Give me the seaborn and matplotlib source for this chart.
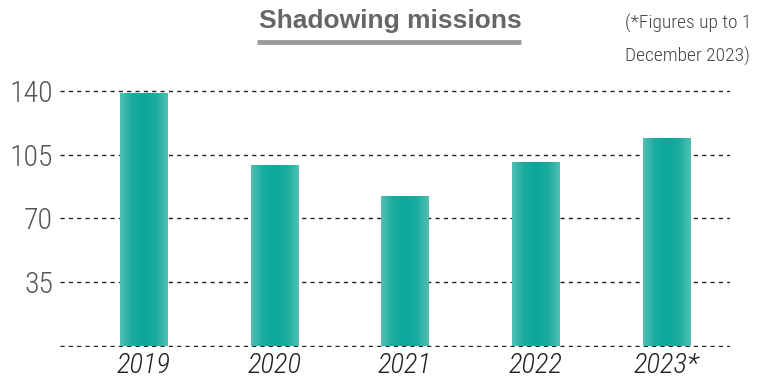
import numpy as np
import pandas as pd
import matplotlib
matplotlib.use("Agg")
import matplotlib.pyplot as plt
import seaborn as sns
from matplotlib.colors import LinearSegmentedColormap

years = ["2019", "2020", "2021", "2022", "2023*"]
missions = [139, 99, 82, 101, 114]
ytick_vals = [0, 35, 70, 105, 140]
ytick_labels = ["", "35", "70", "105", "140"]
title = "Shadowing missions"
note = "(*Figures up to 1\nDecember 2023)"

sns.set_theme(style="white")
FAM = ['Roboto Condensed', 'Archivo Narrow', 'Liberation Sans Narrow',
       'Barlow Semi Condensed', 'DejaVu Sans']
plt.rcParams['font.family'] = FAM

df = pd.DataFrame({"year": years, "missions": missions})

fig = plt.figure(figsize=(7.74, 3.85), dpi=100)
ax = fig.add_axes([0.0775, 0.0992, 0.8655, 0.6678])

sns.barplot(data=df, x="year", y="missions", color="#2ab0a3", width=0.36,
            saturation=1, ax=ax, zorder=3)

# gradient overlay on each bar
cmap = LinearSegmentedColormap.from_list("teal", ["#52bfb3", "#1aac9f", "#0ba89b", "#1aac9f", "#52bfb3"])
grad = np.tile(np.linspace(0, 1, 256), (64, 1))
for p in ax.patches:
    x0, y0 = p.get_x(), p.get_y()
    w, h = p.get_width(), p.get_height()
    im = ax.imshow(grad, cmap=cmap, aspect="auto", extent=[x0, x0 + w, y0, y0 + h],
                   zorder=4, interpolation="bicubic")
    im.set_clip_path(p)
    p.set_edgecolor("none")

ax.set_xlim(-0.637, 4.485)
ax.set_ylim(-0.6, 140.6)
ax.set_yticks(ytick_vals)
ax.set_yticklabels(ytick_labels, fontsize=21.5, color="#555555", fontweight="light")
ax.set_xticks(range(len(years)))
ax.set_xticklabels(years, fontsize=20.5, color="#222222", style="italic",
                   fontweight="light")
ax.tick_params(axis="x", length=0, pad=4)
ax.tick_params(axis="y", length=0, pad=5)
ax.set_xlabel("")
ax.set_ylabel("")
for s in ax.spines.values():
    s.set_visible(False)
ax.yaxis.grid(True, linestyle=(0, (3, 3)), color="#222222", linewidth=1.0, zorder=1)
ax.set_axisbelow(True)
ax.patch.set_alpha(0)

fig.text(0.504, 0.945, title, ha="center", va="center", fontsize=19,
         fontweight="bold", color="#666666",
         family=['Liberation Sans', 'DejaVu Sans'])
fig.add_artist(plt.Line2D([257 / 774, 521 / 774], [1 - 42 / 385, 1 - 42 / 385],
                          color="#9a9a9a", linewidth=3.5, solid_capstyle="butt"))
fig.text(0.808, 0.897, note, ha="left", va="center", fontsize=14,
         color="#444444", linespacing=1.95, fontweight="light")

fig.savefig("out.png", dpi=100)
